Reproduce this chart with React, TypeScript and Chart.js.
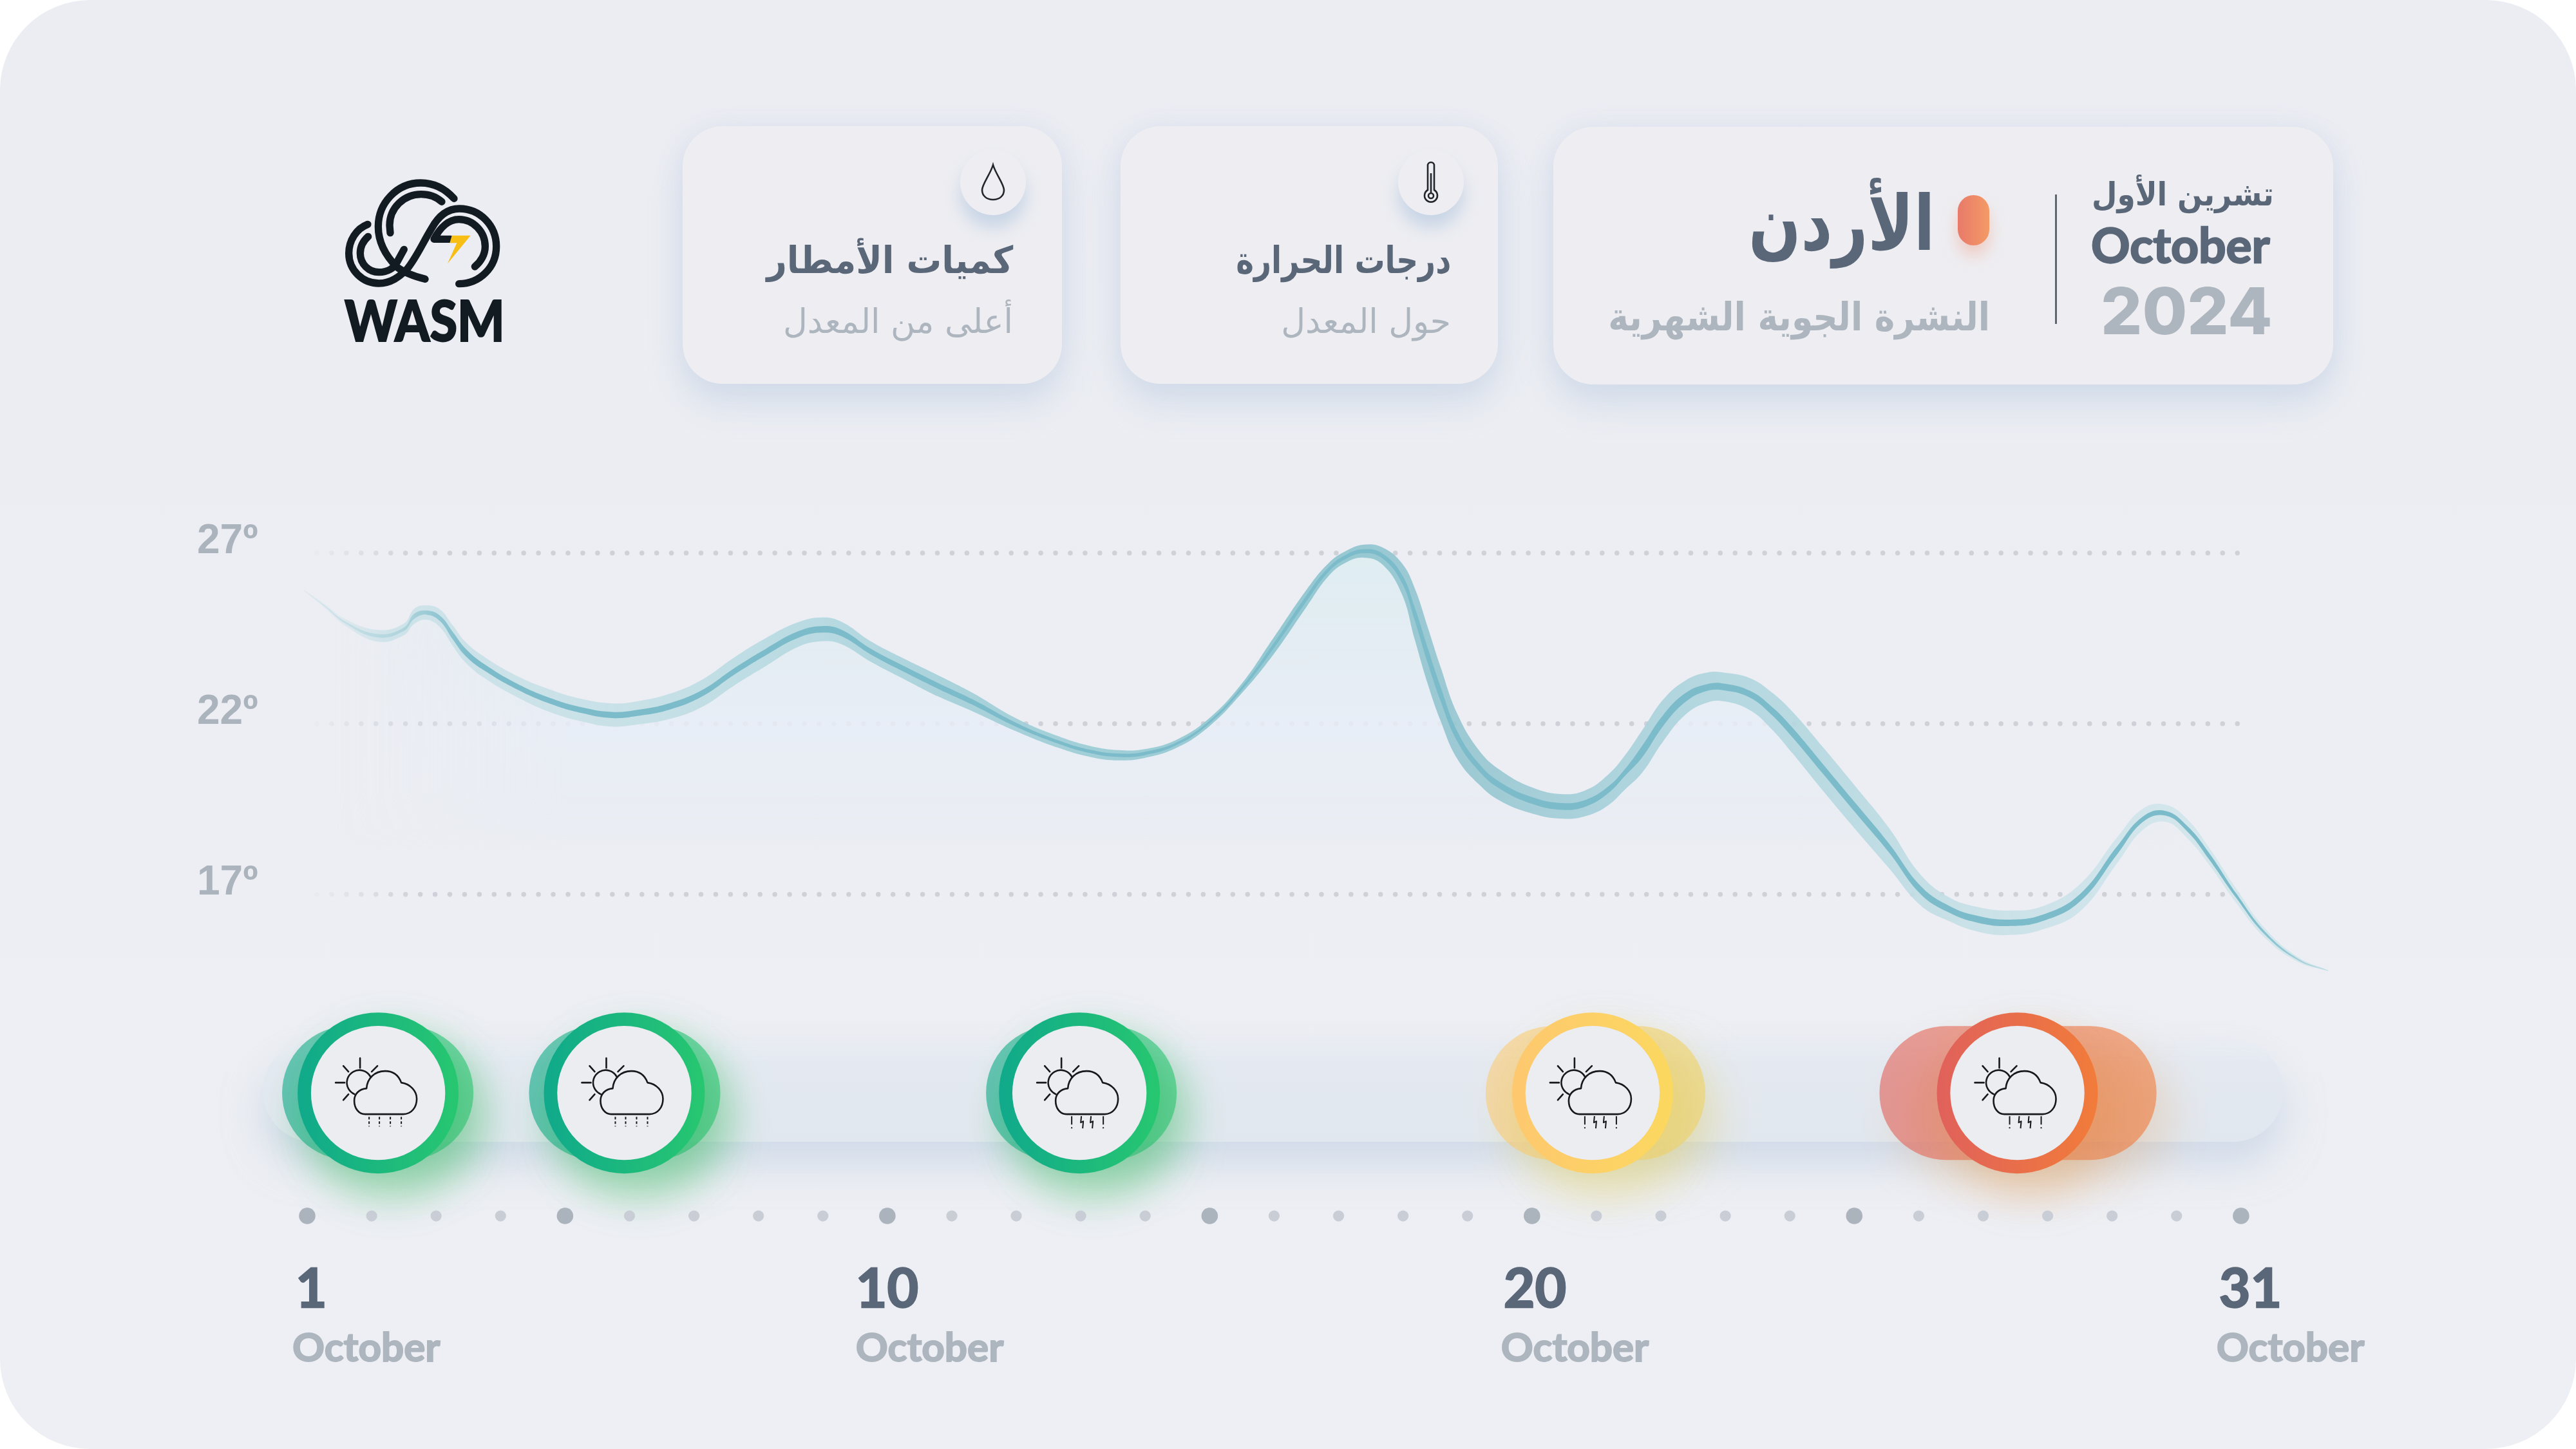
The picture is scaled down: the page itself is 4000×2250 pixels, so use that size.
import React, { useEffect, useRef } from "react";
import { Chart, registerables } from "chart.js";

Chart.register(...registerables);

const INK = "#5a6778";
const MUTED = "#adb5be";
const LATIN = "Lato, 'Noto Sans', sans-serif";
const ARABIC = "'DejaVu Sans', sans-serif";
const CLEAR = "rgba(0,0,0,0)";

// Temperature curve
const curveDays = [
  0.95, 1.26, 1.6, 2.1, 2.5, 2.66, 2.85, 3.06, 3.26, 3.46, 3.76, 4.26, 4.76, 5.26, 5.73, 6.12, 6.62, 7.12, 7.62, 8.12,
  8.62, 8.99, 9.29, 9.75, 10.29, 10.79, 11.32, 11.99, 12.65, 13.15, 13.59, 13.99, 14.49, 14.99, 15.49, 15.98, 16.51,
  16.84, 17.11, 17.39, 17.68, 17.98, 18.18, 18.38, 18.58, 18.84, 19.18, 19.51, 20.01, 20.48, 20.84, 21.18, 21.44,
  21.71, 22.04, 22.38, 22.71, 22.98, 23.38, 23.71, 24.04, 24.54, 25.04, 25.54, 26.03, 26.47, 26.9, 27.39, 27.93,
  28.51, 29.08, 29.48, 29.83, 30.17, 30.51, 30.92, 31.38, 31.89, 32.35,
];
const curveTemps = [
  25.91, 25.47, 24.96, 24.58, 24.77, 25.15, 25.26, 25.09, 24.58, 24.09, 23.64, 23.09, 22.68, 22.4, 22.26, 22.32, 22.51,
  22.89, 23.53, 24.11, 24.62, 24.77, 24.66, 24.11, 23.58, 23.11, 22.64, 21.98, 21.47, 21.19, 21.08, 21.13, 21.42, 22.04,
  23.02, 24.25, 25.7, 26.51, 26.89, 27.06, 26.92, 26.26, 25.23, 24.02, 22.89, 21.64, 20.72, 20.19, 19.75, 19.58, 19.68,
  20.06, 20.57, 21.19, 22.11, 22.77, 23.06, 23.08, 22.87, 22.4, 21.75, 20.62, 19.49, 18.36, 17.13, 16.57, 16.28, 16.17,
  16.32, 16.92, 18.3, 19.21, 19.38, 18.92, 18.11, 16.98, 15.85, 15.09, 14.77,
];
const haloSpread = [
  0.03, 0.06, 0.1, 0.17, 0.17, 0.22, 0.21, 0.26, 0.3, 0.3, 0.31, 0.31, 0.33, 0.33, 0.34, 0.34, 0.37, 0.4, 0.41, 0.41,
  0.36, 0.35, 0.33, 0.3, 0.3, 0.31, 0.27, 0.19, 0.17, 0.16, 0.15, 0.13, 0.12, 0.12, 0.14, 0.24, 0.25, 0.19, 0.17, 0.19,
  0.25, 0.45, 0.75, 0.83, 0.79, 0.66, 0.5, 0.45, 0.38, 0.36, 0.38, 0.45, 0.5, 0.62, 0.61, 0.5, 0.44, 0.42, 0.47, 0.54,
  0.61, 0.64, 0.63, 0.59, 0.45, 0.35, 0.36, 0.36, 0.34, 0.4, 0.38, 0.31, 0.25, 0.28, 0.25, 0.21, 0.14, 0.07, 0.01,
];
const coreSpread = [
  0.01, 0.02, 0.03, 0.05, 0.05, 0.075, 0.06, 0.08, 0.11, 0.11, 0.095, 0.085, 0.085, 0.085, 0.09, 0.09, 0.095, 0.095,
  0.095, 0.095, 0.095, 0.095, 0.095, 0.085, 0.085, 0.085, 0.08, 0.06, 0.05, 0.05, 0.05, 0.05, 0.04, 0.04, 0.05, 0.075,
  0.085, 0.065, 0.06, 0.06, 0.07, 0.12, 0.19, 0.22, 0.21, 0.15, 0.11, 0.1, 0.1, 0.1, 0.1, 0.1, 0.1, 0.17, 0.16, 0.13,
  0.1, 0.1, 0.1, 0.12, 0.14, 0.14, 0.14, 0.13, 0.12, 0.1, 0.1, 0.095, 0.095, 0.11, 0.12, 0.08, 0.07, 0.08, 0.095,
  0.065, 0.045, 0.025, 0.01,
];

// Axis
const gridTemps = [17, 22, 27];
const dayDots = Array.from({ length: 31 }, (_, i) => i + 1);
const majorDays = [1, 5, 10, 15, 20, 25, 31];
const tickLabels = ["1", "10", "20", "31"];
const tickAnchorDays = [0.82, 9.51, 19.56, 30.66];
const monthAnchorDays = [0.77, 9.51, 19.52, 30.62];
const monthLabel = "October";

// Weather events along the timeline
const eventDays = [2.1, 5.92, 12.98, 20.94, 27.53];
const eventStart = [1.65, 5.48, 12.57, 20.32, 26.43];
const eventEnd = [2.54, 6.37, 13.45, 21.65, 28.65];
const eventLevel = ["green", "green", "green", "yellow", "red"];
const eventStorm = [false, false, true, true, true];
const trackSpan = [1.1, 30.87];

const LEVELS: Record<string, any> = {
  green: {
    ring: ["#10a98b", "#27c770"],
    pill: ["rgba(16,169,139,.6)", "rgba(39,199,112,.6)"],
    shadow: "rgba(50,185,90,.42)",
    ringShadow: "rgba(50,185,90,.32)",
  },
  yellow: {
    ring: ["#fec86f", "#fbd85f"],
    pill: ["rgba(253,200,110,.55)", "rgba(238,212,110,.65)"],
    shadow: "rgba(225,205,90,.42)",
    ringShadow: "rgba(225,205,90,.3)",
  },
  red: {
    ring: ["#e0615b", "#f17c3a"],
    pill: ["rgba(224,97,91,.6)", "rgba(241,124,58,.6)"],
    shadow: "rgba(225,150,70,.36)",
    ringShadow: "rgba(225,150,70,.3)",
  },
};

const ROW_EVENT = 18.2;
const ROW_TRACK = 18.45;
const ROW_DOTS = 2.54;

const haloStops: [number, string][] = [
  [0.95, "rgba(205,225,232,.1)"],
  [1.3, "rgba(205,226,232,.3)"],
  [2.3, "rgba(200,224,231,.85)"],
  [6, "rgba(198,224,230,.95)"],
  [9, "rgba(181,216,224,.95)"],
  [11, "rgba(166,208,217,.95)"],
  [13, "rgba(158,205,214,.95)"],
  [16, "rgba(143,198,208,.95)"],
  [19, "rgba(150,198,208,.92)"],
  [21, "rgba(166,208,218,.92)"],
  [23, "rgba(177,214,222,.92)"],
  [24.5, "rgba(182,216,224,.92)"],
  [27, "rgba(199,224,230,.92)"],
  [29, "rgba(207,228,234,.95)"],
  [32.35, "rgba(212,230,236,.95)"],
];
const coreStops: [number, string][] = [
  [0.95, "rgba(190,220,228,.3)"],
  [1.3, "rgba(190,220,228,.6)"],
  [2.5, "#b0d4dc"],
  [3, "#93c7d3"],
  [3.6, "#7bbbca"],
  [31, "#7bbbca"],
  [31.7, "#95c9d5"],
  [32.35, "#bcdce3"],
];

const laidOut = (chart: any) => chart.scales.x && Number.isFinite(chart.scales.x.getPixelForValue(5)) && chart.chartArea;

function hGrad(chart: any, stops: [number, string][]) {
  if (!laidOut(chart)) return CLEAR;
  const x = chart.scales.x;
  const W = chart.width;
  const g = chart.ctx.createLinearGradient(0, 0, W, 0);
  stops.forEach(([d, c]) => g.addColorStop(Math.min(1, Math.max(0, x.getPixelForValue(d) / W)), c));
  return g;
}

function areaPattern(chart: any) {
  if (chart.$area) return chart.$area;
  if (!laidOut(chart)) return CLEAR;
  const { x, y } = chart.scales;
  const off = document.createElement("canvas");
  off.width = chart.width;
  off.height = chart.height;
  const c = off.getContext("2d")!;
  const H = chart.height;
  const v = c.createLinearGradient(0, 0, 0, H);
  const add = (t: number, col: string) => v.addColorStop(y.getPixelForValue(t) / H, col);
  v.addColorStop(0, "rgba(221,237,241,.9)");
  add(27.2, "rgba(221,237,241,.9)");
  add(24, "rgba(226,236,242,.85)");
  add(22, "rgba(231,237,246,.85)");
  add(20, "rgba(232,237,243,.85)");
  add(18.9, "rgba(233,237,243,.7)");
  add(18.3, "rgba(233,237,243,0)");
  v.addColorStop(1, "rgba(233,237,243,0)");
  c.fillStyle = v;
  c.fillRect(0, 0, off.width, off.height);
  c.globalCompositeOperation = "destination-in";
  const h = c.createLinearGradient(0, 0, off.width, 0);
  const addH = (d: number, a: number) => h.addColorStop(x.getPixelForValue(d) / off.width, `rgba(0,0,0,${a})`);
  h.addColorStop(0, "rgba(0,0,0,0)");
  addH(1.4, 0);
  addH(3, 0.4);
  addH(5, 1);
  addH(29, 1);
  addH(30.6, 0);
  h.addColorStop(1, "rgba(0,0,0,0)");
  c.fillStyle = h;
  c.fillRect(0, 0, off.width, off.height);
  chart.$area = chart.ctx.createPattern(off, "no-repeat");
  return chart.$area;
}

function gridColor(ctx: any) {
  const chart = ctx.chart;
  if (chart.$grid) return chart.$grid;
  const W = chart.width;
  const g = chart.ctx.createLinearGradient(0, 0, W, 0);
  g.addColorStop(480 / W, "rgba(207,209,217,.05)");
  g.addColorStop(650 / W, "rgba(207,209,217,1)");
  g.addColorStop(3478 / W, "rgba(207,209,217,1)");
  g.addColorStop(3480 / W, "rgba(207,209,217,0)");
  g.addColorStop(1, "rgba(207,209,217,0)");
  chart.$grid = g;
  return g;
}

const band = (spread: number[], sign: number) =>
  curveDays.map((d, i) => ({ x: d, y: curveTemps[i] + sign * spread[i] }));

const bandBase = {
  type: "line",
  borderWidth: 0,
  borderColor: "transparent",
  pointRadius: 0,
  tension: 0.42,
  clip: false,
};

const shadowPlugin = {
  id: "shadowPlugin",
  beforeDraw(chart: any) {
    chart.ctx.lineCap = "round";
  },
  afterDraw(chart: any) {
    chart.ctx.lineCap = "butt";
  },
  beforeDatasetDraw(chart: any, args: any) {
    const s = chart.data.datasets[args.index].shadow;
    if (!s) return;
    const c = chart.ctx;
    c.save();
    c.shadowColor = s.color;
    c.shadowBlur = s.blur;
    c.shadowOffsetX = s.dx;
    c.shadowOffsetY = s.dy;
  },
  afterDatasetDraw(chart: any, args: any) {
    if (chart.data.datasets[args.index].shadow) chart.ctx.restore();
  },
};

const cloud = new Path2D(
  "M-20 33 L39 33 C52 33 60 22 60 9 C60 -3 50 -14 36 -16 C32 -27 24 -34 11 -34 C-6 -34 -17 -22 -18 -7 C-30 -6 -37 2 -37 12 C-37 24 -30 33 -20 33 Z"
);
const sun = new Path2D();
sun.arc(-29, -16, 19.5, -0.5, 1.97, true);
const rays = new Path2D("M-28 -54 L-28 -39 M-66 -16 L-52 -16 M-54 -42 L-46 -33 M-1 -42 L-10 -33 M-54 11 L-46 2");
const drizzle = new Path2D("M-14 37 L-14 52 M2 37 L2 52 M19 37 L19 52 M36 37 L36 52");
const storm = new Path2D(
  "M-12 36 L-12 49 M-12 53 L-12 55 M3 36 L2 46 L6 44 L5 55 M18 36 L17 46 L21 44 L20 55 M37 36 L37 49 M37 53 L37 55"
);

const iconPlugin = {
  id: "iconPlugin",
  afterDatasetsDraw(chart: any) {
    const c = chart.ctx;
    const x = chart.scales.x;
    const y = chart.scales.yRow;
    eventDays.forEach((d, i) => {
      c.save();
      c.translate(x.getPixelForValue(d), y.getPixelForValue(ROW_EVENT));
      c.strokeStyle = "#16181c";
      c.lineWidth = 2.6;
      c.lineCap = "round";
      c.lineJoin = "round";
      c.stroke(cloud);
      c.stroke(sun);
      c.stroke(rays);
      c.lineWidth = 2;
      c.lineCap = "butt";
      if (eventStorm[i]) {
        c.stroke(storm);
      } else {
        c.setLineDash([4, 3]);
        c.stroke(drizzle);
      }
      c.restore();
    });
  },
};

function buildDatasets() {
  const ds: any[] = [];
  ds.push({
    label: "area",
    ...bandBase,
    order: 60,
    data: curveDays.map((d, i) => ({ x: d, y: curveTemps[i] })),
    backgroundColor: (ctx: any) => areaPattern(ctx.chart),
    fill: { value: 18.3, below: CLEAR },
  });
  ds.push({
    label: "Temperature range high",
    ...bandBase,
    order: 50,
    data: band(haloSpread, 1),
    backgroundColor: (ctx: any) => hGrad(ctx.chart, haloStops),
    fill: "+1",
  });
  ds.push({ label: "Temperature range low", ...bandBase, order: 50, data: band(haloSpread, -1), fill: false });
  ds.push({
    label: "Temperature high",
    ...bandBase,
    order: 40,
    data: band(coreSpread, 1),
    backgroundColor: (ctx: any) => hGrad(ctx.chart, coreStops),
    fill: "+1",
  });
  ds.push({ label: "Temperature low", ...bandBase, order: 40, data: band(coreSpread, -1), fill: false });

  ds.push({
    label: "track",
    type: "line",
    yAxisID: "yRow",
    order: 30,
    clip: false,
    pointRadius: 0,
    tension: 0,
    fill: false,
    data: trackSpan.map((d) => ({ x: d, y: ROW_TRACK })),
    borderWidth: 158,
    borderCapStyle: "round",
    borderColor: (ctx: any) => {
      if (!laidOut(ctx.chart)) return CLEAR;
      const y = ctx.chart.scales.yRow.getPixelForValue(ROW_TRACK);
      const g = ctx.chart.ctx.createLinearGradient(0, y - 79, 0, y + 79);
      g.addColorStop(0, "rgba(232,236,243,.7)");
      g.addColorStop(0.22, "#e4e9f1");
      g.addColorStop(1, "#e1e7ef");
      return g;
    },
    shadow: { color: "rgba(190,205,225,.6)", blur: 60, dx: 0, dy: 34 },
  });

  eventDays.forEach((day, i) => {
    const lv = LEVELS[eventLevel[i]];
    const hor = (ctx: any, a: number, b: number, cols: string[]) => {
      if (!laidOut(ctx.chart)) return cols[0];
      const x = ctx.chart.scales.x;
      const g = ctx.chart.ctx.createLinearGradient(x.getPixelForValue(a), 0, x.getPixelForValue(b), 0);
      g.addColorStop(0, cols[0]);
      g.addColorStop(1, cols[1]);
      return g;
    };
    ds.push({
      label: "pill " + (i + 1),
      type: "line",
      yAxisID: "yRow",
      order: 20,
      clip: false,
      pointRadius: 0,
      tension: 0,
      fill: false,
      data: [
        { x: eventStart[i], y: ROW_EVENT },
        { x: eventEnd[i], y: ROW_EVENT },
      ],
      borderWidth: 208,
      borderCapStyle: "round",
      borderColor: (ctx: any) => hor(ctx, eventStart[i] - 1.04, eventEnd[i] + 1.04, lv.pill),
      shadow: { color: lv.shadow, blur: 64, dx: 26, dy: 34 },
    });
    ds.push({
      label: "ring " + (i + 1),
      type: "scatter",
      yAxisID: "yRow",
      order: 10,
      clip: false,
      data: [{ x: day, y: ROW_EVENT }],
      pointRadius: 114.5,
      pointBorderWidth: 21,
      pointBackgroundColor: lv.ring[0],
      pointBorderColor: (ctx: any) => hor(ctx, day - 1.25, day + 1.25, lv.ring),
      shadow: { color: lv.ringShadow, blur: 64, dx: 20, dy: 34 },
    });
    ds.push({
      label: "ring face " + (i + 1),
      type: "scatter",
      yAxisID: "yRow",
      order: 9,
      clip: false,
      data: [{ x: day, y: ROW_EVENT }],
      pointRadius: 104.2,
      pointBorderWidth: 0,
      pointBackgroundColor: "#ecedf1",
    });
  });

  ds.push({
    label: "Days",
    type: "scatter",
    yAxisID: "yRow",
    order: 5,
    clip: false,
    data: dayDots.map((d) => ({ x: d, y: ROW_DOTS })),
    pointRadius: dayDots.map((d) => (majorDays.includes(d) ? 12.8 : 8.6)),
    pointBorderWidth: 0,
    pointBackgroundColor: dayDots.map((d) => (majorDays.includes(d) ? "#abb3bd" : "#c9cdd6")),
  });
  return ds;
}

function T(p: any) {
  const s: any = {
    position: "absolute",
    top: p.top,
    fontSize: p.size,
    lineHeight: 1,
    fontWeight: p.weight ?? 700,
    color: p.color ?? INK,
    fontFamily: p.font ?? LATIN,
    whiteSpace: "nowrap",
    letterSpacing: p.spacing,
  };
  if (p.right !== undefined) s.right = 4000 - p.right;
  else s.left = p.left;
  if (p.sx) {
    s.transform = `scaleX(${p.sx})`;
    s.transformOrigin = p.right !== undefined ? "right" : "left";
  }
  if (p.stroke) s.WebkitTextStroke = `${p.stroke}px ${s.color}`;
  return (
    <div style={s} dir={p.dir}>
      {p.children}
    </div>
  );
}

const cardStyle = (l: number, r: number, t: number, b: number): any => ({
  position: "absolute",
  left: l,
  top: t,
  width: r - l,
  height: b - t,
  borderRadius: 62,
  background: "#eeeef2",
  boxShadow: "0 30px 56px rgba(196,210,228,.62), 0 0 40px rgba(205,216,232,.4)",
});

const bubbleStyle = (cx: number, cy: number): any => ({
  position: "absolute",
  left: cx - 51,
  top: cy - 51,
  width: 102,
  height: 102,
  borderRadius: "50%",
  background: "#eeeef2",
  boxShadow: "0 20px 26px rgba(190,206,226,.8)",
});

function Logo() {
  return (
    <svg
      viewBox="0 0 1200 990"
      width={400}
      height={330}
      style={{ position: "absolute", left: 450, top: 230 }}
      fill="none"
      stroke="#121a22"
      strokeWidth={34}
      strokeLinecap="round"
      strokeLinejoin="round"
    >
      <path d="M765 235 C720 185 670 162 610 162 C500 162 412 255 412 365 C412 440 445 500 500 555 C540 585 590 600 630 610" />
      <path d="M708 250 C680 225 650 215 612 215 C530 215 465 280 465 360 L468 395" />
      <path d="M363 355 C310 375 275 430 275 490 C275 570 340 630 415 630 C470 630 510 600 545 565 C590 510 620 440 660 375 C690 320 730 282 790 282 C885 282 962 360 962 458 C962 555 885 632 788 632" />
      <path d="M365 412 C345 430 328 455 328 490 C328 540 368 578 415 578 C455 578 485 560 500 530 L532 472" />
      <path d="M862 552 C890 530 910 495 910 458 C910 390 855 332 788 332 C740 332 700 370 672 424 L750 424" />
      <polygon points="755,407 842,407 735,538 778,442 745,442" fill="#f7be16" stroke="none" />
    </svg>
  );
}

export default function App() {
  const ref = useRef<HTMLCanvasElement>(null);
  useEffect(() => {
    document.body.style.margin = "0";
    const chart = new Chart(ref.current as any, {
      type: "line",
      data: { datasets: buildDatasets() },
      plugins: [shadowPlugin, iconPlugin],
      options: {
        animation: false,
        responsive: false,
        events: [],
        layout: { autoPadding: false, padding: { left: 306, right: 380, top: 700, bottom: 111 } },
        plugins: { legend: { display: false }, tooltip: { enabled: false }, title: { display: false } },
        scales: {
          x: {
            type: "linear",
            position: "bottom",
            weight: 0,
            min: 0.95,
            max: 32.4,
            grid: { display: false, drawTicks: false },
            border: { display: false },
            afterFit: (s: any) => {
              s.height = 120;
            },
            afterBuildTicks: (s: any) => {
              s.ticks = tickAnchorDays.map((value) => ({ value }));
            },
            ticks: {
              autoSkip: false,
              maxRotation: 0,
              minRotation: 0,
              align: "start",
              padding: 34,
              color: INK,
              textStrokeColor: INK,
              textStrokeWidth: 2.4,
              font: { family: "Lato", size: 84, weight: "bold" },
              callback: (_v: any, i: number) => tickLabels[i],
            },
          },
          xMonth: {
            type: "linear",
            position: "bottom",
            weight: 1,
            min: 0.95,
            max: 32.4,
            grid: { display: false, drawTicks: false },
            border: { display: false },
            afterFit: (s: any) => {
              s.height = 100;
            },
            afterBuildTicks: (s: any) => {
              s.ticks = monthAnchorDays.map((value) => ({ value }));
            },
            ticks: {
              autoSkip: false,
              maxRotation: 0,
              minRotation: 0,
              align: "start",
              padding: 18,
              color: MUTED,
              textStrokeColor: MUTED,
              textStrokeWidth: 2,
              font: { family: "Lato", size: 62, weight: "bold" },
              callback: () => monthLabel,
            },
          },
          y: {
            type: "linear",
            position: "left",
            min: 7,
            max: 30,
            afterFit: (s: any) => {
              s.width = 166;
            },
            afterBuildTicks: (s: any) => {
              s.ticks = gridTemps.map((value) => ({ value }));
            },
            grid: { color: gridColor, lineWidth: 7.5, drawTicks: false },
            border: { display: false, dash: [0.01, 22.93], dashOffset: 2.93 },
            ticks: {
              crossAlign: "far",
              labelOffset: -18,
              padding: 0,
              color: "#abb3bd",
              font: { family: "Liberation Sans", size: 64, weight: "bold" },
              callback: (v: any) => `${v}º`,
            },
          },
          yRow: { type: "linear", display: false, min: 0, max: 100 },
        },
      } as any,
    } as any);
    chart.update();
    return () => chart.destroy();
  }, []);

  return (
    <div style={{ position: "absolute", left: 0, top: 0, width: 4000, height: 2250, background: "#fff", overflow: "hidden" }}>
      <div
        style={{
          position: "absolute",
          inset: 0,
          borderRadius: 140,
          background: "linear-gradient(180deg,#ecedf3 0%,#edeff4 100%)",
        }}
      />
      <canvas ref={ref} width={4000} height={2250} style={{ position: "absolute", left: 0, top: 0, width: 4000, height: 2250 }} />

      <Logo />
      <T left={535} top={452} size={88} weight={900} color="#121a22" sx={0.88} stroke={2}>
        WASM
      </T>

      <div style={cardStyle(1060, 1649, 196, 596)} />
      <div style={cardStyle(1740, 2326, 196, 596)} />
      <div style={cardStyle(2412, 3623, 197, 597)} />

      <div style={bubbleStyle(1542, 283)} />
      <div style={bubbleStyle(2222, 283)} />
      <svg width={60} height={70} style={{ position: "absolute", left: 1512, top: 248 }} fill="none" stroke="#22262c" strokeWidth={2.6}>
        <path d="M30 8 C26 22 13 38 13 47 C13 56 20 62 30 62 C40 62 47 56 47 47 C47 38 34 22 30 8 Z" />
      </svg>
      <svg width={40} height={76} style={{ position: "absolute", left: 2202, top: 245 }} fill="none" stroke="#22262c" strokeWidth={2.6}>
        <path d="M15 50 L15 12 A5 5 0 0 1 25 12 L25 50 A10 10 0 1 1 15 50 Z" />
        <circle cx={20} cy={59} r={4} />
        <path d="M20 24 L20 54" />
      </svg>

      <T right={1573} top={375} size={58} font={ARABIC} dir="rtl" sx={0.94}>
        كميات الأمطار
      </T>
      <T right={1573} top={473} size={52} weight={400} color={MUTED} font={ARABIC} dir="rtl">
        أعلى من المعدل
      </T>
      <T right={2253} top={375} size={58} font={ARABIC} dir="rtl" sx={0.81}>
        درجات الحرارة
      </T>
      <T right={2253} top={473} size={52} weight={400} color={MUTED} font={ARABIC} dir="rtl">
        حول المعدل
      </T>

      <T right={3005} top={288} size={118} font={ARABIC} dir="rtl" sx={0.81}>
        الأردن
      </T>
      <div
        style={{
          position: "absolute",
          left: 3040,
          top: 303,
          width: 49,
          height: 78,
          borderRadius: 25,
          background: "linear-gradient(90deg,#e87a6a,#f49a66)",
          boxShadow: "0 16px 24px rgba(240,140,110,.35)",
        }}
      />
      <T right={3090} top={462} size={60} color={MUTED} font={ARABIC} dir="rtl" sx={0.89}>
        النشرة الجوية الشهرية
      </T>
      <div style={{ position: "absolute", left: 3191, top: 302, width: 3, height: 201, background: INK }} />
      <T right={3531} top={277} size={50} font={ARABIC} dir="rtl" sx={0.91}>
        تشرين الأول
      </T>
      <T left={3247} top={342} size={75} stroke={2.4}>
        October
      </T>
      <T left={3262} top={432} size={101} weight={800} color={MUTED} font="Inter, Lato, sans-serif">
        2024
      </T>
    </div>
  );
}
